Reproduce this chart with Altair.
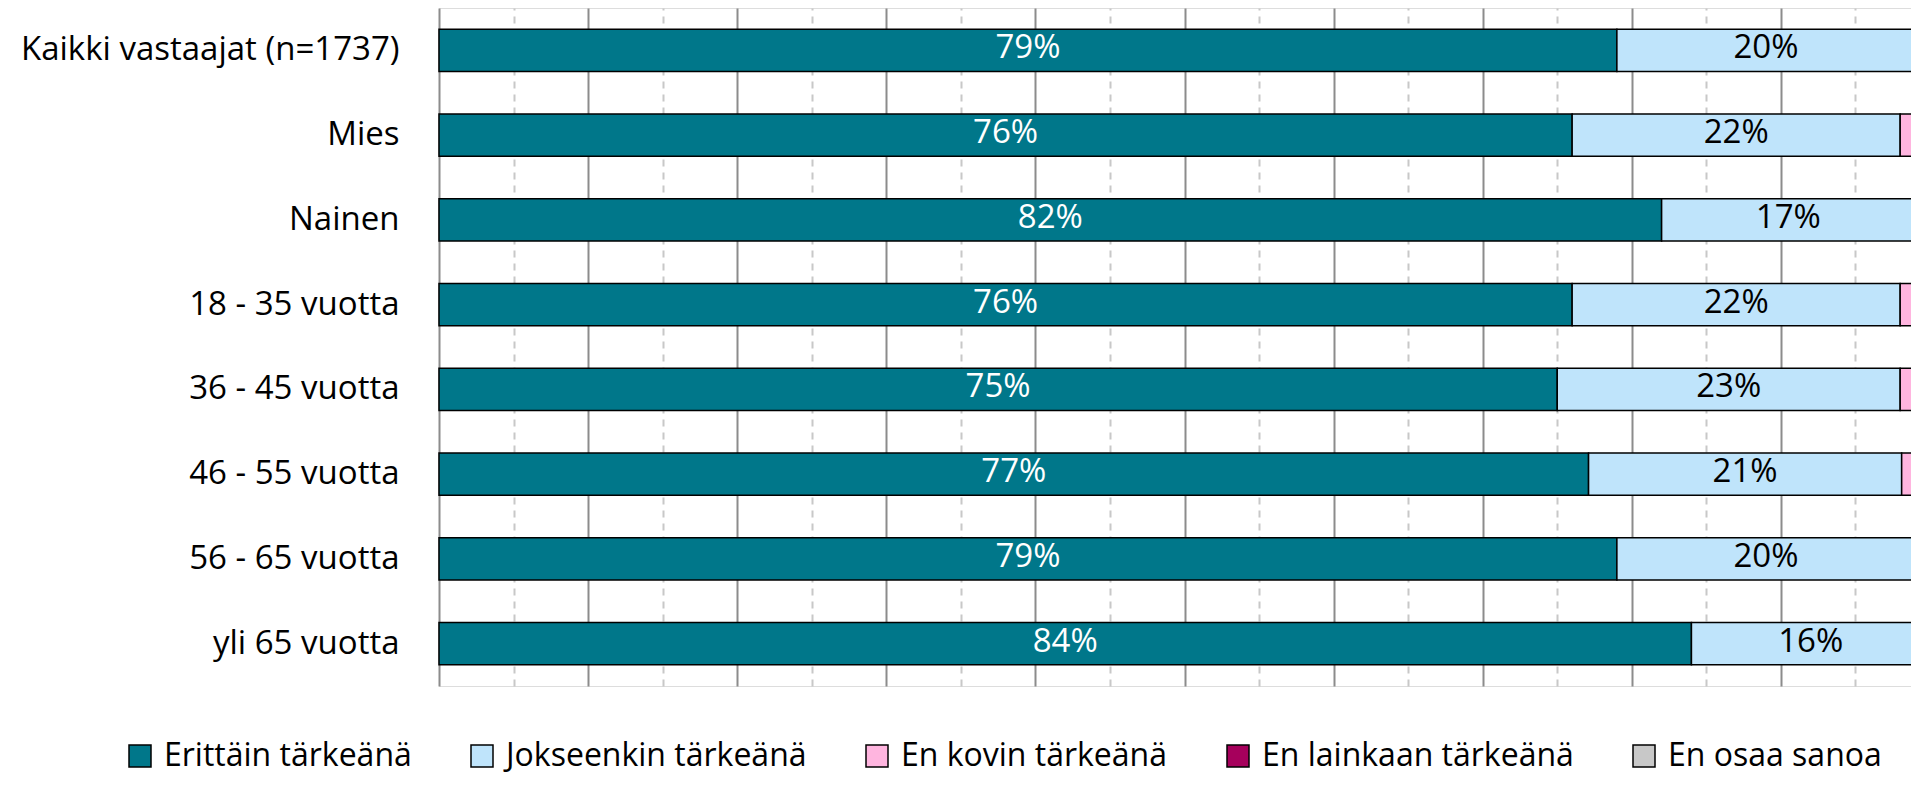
import altair as alt
import pandas as pd

groups = ["Kaikki vastaajat (n=1737)", "Mies", "Nainen", "18 - 35 vuotta",
          "36 - 45 vuotta", "46 - 55 vuotta", "56 - 65 vuotta", "yli 65 vuotta"]
categories = ["Erittäin tärkeänä", "Jokseenkin tärkeänä", "En kovin tärkeänä",
              "En lainkaan tärkeänä", "En osaa sanoa"]
colors = ["#00778A", "#BFE4FB", "#FFB5DF", "#A6005C", "#C8C8C8"]

erittain = [79.0, 76.0, 82.0, 76.0, 75.0, 77.1, 79.0, 84.0]
jokseenkin = [20.0, 22.0, 17.0, 22.0, 23.0, 21.0, 20.0, 16.0]
en_kovin = [0.7, 1.5, 0.7, 1.0, 1.6, 1.5, 0.7, 0.0]
en_lainkaan = [0.1, 0.2, 0.0, 0.0, 0.1, 0.1, 0.0, 0.0]
en_osaa = [0.2, 0.3, 0.3, 1.0, 0.3, 0.3, 0.3, 0.0]

series = [erittain, jokseenkin, en_kovin, en_lainkaan, en_osaa]
rows = []
for ci, (cat, vals) in enumerate(zip(categories, series)):
    for g, v in zip(groups, vals):
        if v > 0:
            rows.append({"group": g, "category": cat, "order": ci, "value": v})
df = pd.DataFrame(rows)

FONT = "Open Sans"
W, H = 1491, 678

x_axis = alt.Axis(
    values=list(range(0, 101, 5)), labels=False, ticks=False, domain=False, title=None,
    grid=True, gridWidth=2,
    gridColor={"condition": {"test": "datum.value % 10 !== 0", "value": "#C8C8C8"}, "value": "#8C8C8C"},
    gridDash={"condition": {"test": "datum.value % 10 !== 0", "value": [7, 6]}, "value": []},
)
x_scale = alt.Scale(domain=[0, 100], nice=False, zero=True)
y_enc = alt.Y("group:N", sort=groups, title=None,
              scale=alt.Scale(paddingInner=0.5, paddingOuter=0.25),
              axis=alt.Axis(ticks=False, domain=False, labelFont=FONT, labelFontSize=33,
                            labelColor="black", labelPadding=40, labelLimit=600))

base = alt.Chart(df).transform_stack(
    stack="value", groupby=["group"], as_=["x0", "x1"],
    sort=[alt.SortField("order", order="ascending")]
).transform_calculate(mid="(datum.x0 + datum.x1) / 2",
                      label="format(datum.value, '.0f') + '%'")

bars = base.mark_bar(stroke="black", strokeWidth=1.5).encode(
    x=alt.X("x0:Q", scale=x_scale, axis=x_axis),
    x2="x1:Q",
    y=y_enc,
    color=alt.Color("category:N", scale=alt.Scale(domain=categories, range=colors),
                    legend=alt.Legend(orient="none", legendX=-315, legendY=732,
                                      direction="horizontal", title=None,
                                      symbolType="square", symbolSize=484,
                                      symbolStrokeColor="black", symbolStrokeWidth=1.5,
                                      labelFont=FONT, labelFontSize=32, labelColor="black",
                                      labelOffset=8, columnPadding=54, labelLimit=600)),
)

labels = base.transform_filter("datum.value >= 5").mark_text(
    font=FONT, fontSize=33, align="center", baseline="middle", dy=-2
).encode(
    x=alt.X("mid:Q", scale=x_scale, axis=x_axis),
    y=y_enc,
    text="label:N",
    color=alt.condition("datum.order === 0", alt.value("white"), alt.value("black")),
)

chart = alt.layer(bars, labels).properties(
    width=W, height=H,
    autosize=alt.AutoSizeParams(type="none"),
    padding={"left": 431, "top": 0, "right": -19, "bottom": 92},
).configure_view(stroke="#A6A6A6", strokeWidth=2).configure(background="white")

chart.save("out.html", embed_options={"renderer": "svg", "actions": False})
